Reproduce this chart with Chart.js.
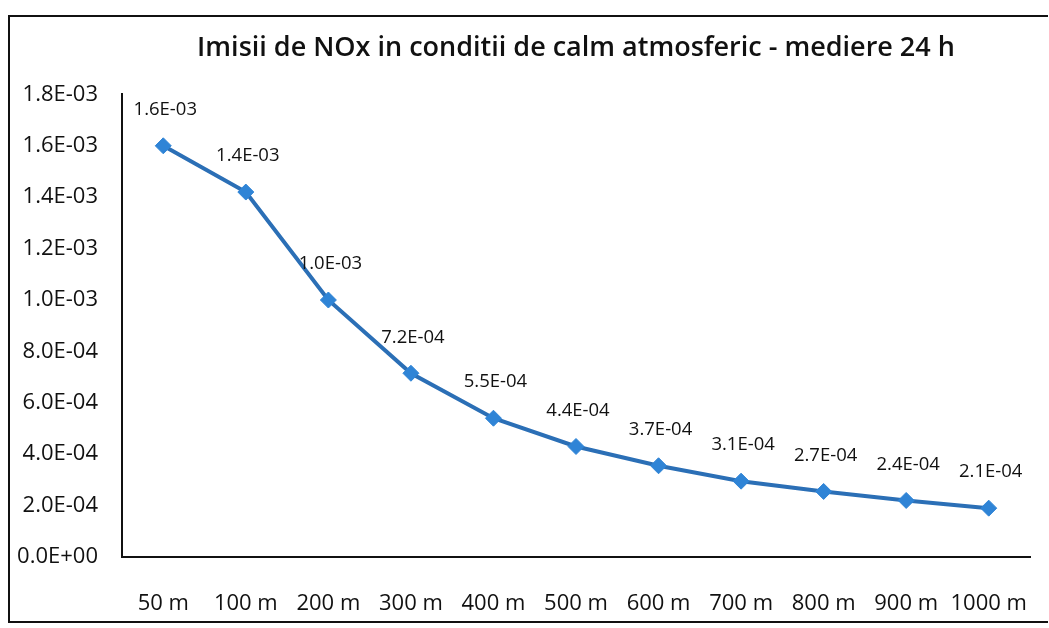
<!DOCTYPE html>
<html>
<head>
<meta charset="utf-8">
<script src="https://cdn.jsdelivr.net/npm/chart.js@4"></script>
<style>
  html, body { margin: 0; padding: 0; background: #fff; }
  #wrap { position: relative; width: 1049px; height: 628px; }
  #frame { position: absolute; left: 8px; top: 15px; width: 1038px; height: 604px; border: 2px solid #111; border-right: none; }
  canvas { position: absolute; left: 0; top: 0; }
</style>
</head>
<body>
<div id="wrap">
  <div id="frame"></div>
  <canvas id="chart" width="1049" height="628"></canvas>
</div>
<script>
const chartTitle = "Imisii de NOx in conditii de calm atmosferic - mediere 24 h";
const distances = ["50 m", "100 m", "200 m", "300 m", "400 m", "500 m", "600 m", "700 m", "800 m", "900 m", "1000 m"];
const noxValues = [1.6e-3, 1.42e-3, 1.0e-3, 7.15e-4, 5.4e-4, 4.3e-4, 3.55e-4, 2.95e-4, 2.55e-4, 2.2e-4, 1.9e-4];
const noxLabels = ["1.6E-03", "1.4E-03", "1.0E-03", "7.2E-04", "5.5E-04", "4.4E-04", "3.7E-04", "3.1E-04", "2.7E-04", "2.4E-04", "2.1E-04"];

const fontFamily = "'Open Sans', Lato, sans-serif";

// excel style exponent: 1.8E-03
function sciFormat(v) {
    let s = Number(v).toExponential(1).toUpperCase();
    let parts = s.split("E");
    let sign = parts[1][0];
    let exp = parts[1].slice(1);
    if (exp.length < 2) exp = "0" + exp;
    return parts[0] + "E" + sign + exp;
}

// draw the value label over each point
const pointLabels = {
    id: "pointLabels",
    afterDatasetsDraw(chart) {
        const ctx = chart.ctx;
        const meta = chart.getDatasetMeta(0);
        ctx.save();
        ctx.font = "18.5px " + fontFamily;
        ctx.fillStyle = "#111";
        ctx.textAlign = "center";
        ctx.textBaseline = "middle";
        meta.data.forEach((pt, i) => {
            ctx.fillText(noxLabels[i], pt.x + 2, pt.y - 36);
        });
        ctx.restore();
    }
};

const ctx = document.getElementById("chart").getContext("2d");
new Chart(ctx, {
    type: "line",
    data: {
        labels: distances,
        datasets: [{
            label: "NOx",
            data: noxValues,
            borderColor: "#2b6fb6",
            borderWidth: 4,
            pointStyle: "rectRot",
            pointRadius: 8,
            pointBackgroundColor: "#2f84d6",
            pointBorderColor: "#2f84d6",
            pointBorderWidth: 1,
            fill: false,
            tension: 0
        }]
    },
    options: {
        responsive: false,
        animation: false,
        layout: { padding: { left: 0, right: 19, top: 0, bottom: 0 } },
        plugins: {
            legend: { display: false },
            tooltip: { enabled: false },
            title: {
                display: true,
                text: chartTitle,
                fullSize: false,
                color: "#111",
                font: { family: fontFamily, size: 27, weight: "600" },
                padding: { top: 32, bottom: 30 }
            }
        },
        scales: {
            x: {
                offset: true,
                grid: { display: false, drawTicks: false },
                border: { display: true, color: "#111", width: 2 },
                ticks: {
                    color: "#111",
                    font: { family: fontFamily, size: 22 },
                    padding: 34,
                    maxRotation: 0,
                    autoSkip: false
                },
                afterFit: scale => {
                    scale.height = 71;
                    scale.paddingLeft = 0;
                    scale.paddingRight = 0;
                }
            },
            y: {
                min: 0,
                max: 1.8e-3,
                grid: { display: false, drawTicks: false },
                border: { display: true, color: "#111", width: 2 },
                ticks: {
                    stepSize: 2e-4,
                    color: "#111",
                    font: { family: fontFamily, size: 22 },
                    padding: 24,
                    callback: v => sciFormat(v)
                },
                afterFit: scale => { scale.width = 122; }
            }
        }
    },
    plugins: [pointLabels]
});
</script>
</body>
</html>
